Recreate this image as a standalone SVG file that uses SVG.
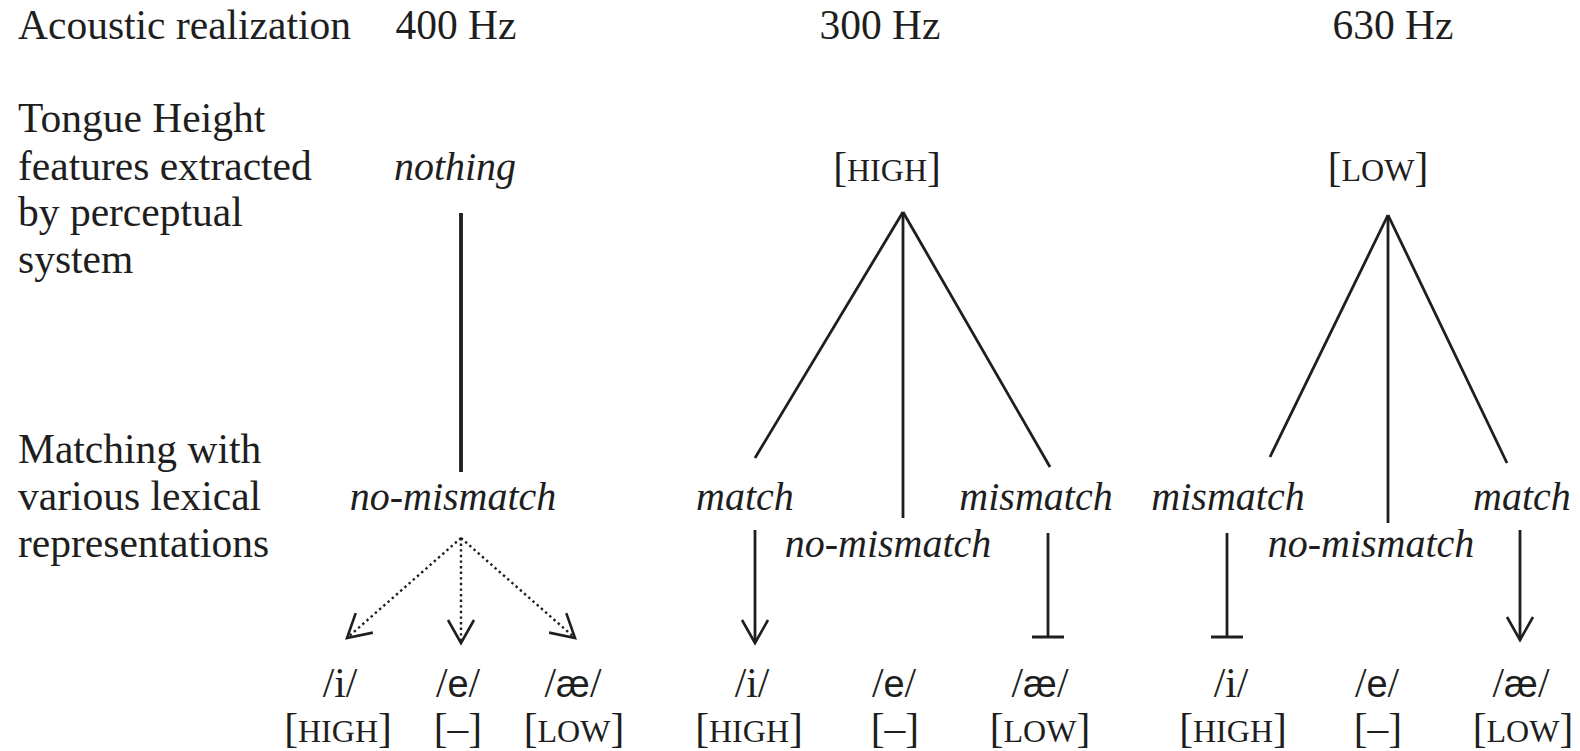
<svg xmlns="http://www.w3.org/2000/svg" width="1580" height="751" viewBox="0 0 1580 751">
<style>
text{font-family:"Liberation Serif","Times New Roman",serif;font-size:41.5px;fill:#1e1e1e}
.it{font-style:italic;font-size:40px}
.m{text-anchor:middle}
.sc{font-size:32px}
.ss{font-family:"Liberation Sans",Arial,sans-serif;font-size:38px}
.ln{stroke:#1e1e1e;stroke-width:2.8;fill:none;stroke-linecap:butt}
.thick{stroke-width:3.8}
.dot{stroke-width:2.4;stroke-dasharray:2.4 3.2}
</style>
<defs>
<marker id="arr" markerUnits="userSpaceOnUse" viewBox="-27 -16 30 32" refX="0" refY="0" markerWidth="30" markerHeight="32" orient="auto">
<path d="M-23,-13 L0,0 L-23,13" fill="none" stroke="#1e1e1e" stroke-width="2.6" stroke-dasharray="none"/>
</marker>
<marker id="tee" markerUnits="userSpaceOnUse" viewBox="-4 -18 8 36" refX="0" refY="0" markerWidth="8" markerHeight="36" orient="auto">
<path d="M0,-16 L0,16" fill="none" stroke="#1e1e1e" stroke-width="3"/>
</marker>
</defs>

<g id="row-labels">
<text x="18" y="39">Acoustic realization</text>
<text x="18" y="132">Tongue Height</text>
<text x="18" y="180">features extracted</text>
<text x="18" y="226">by perceptual</text>
<text x="18" y="273">system</text>
<text x="18" y="463">Matching with</text>
<text x="18" y="510">various lexical</text>
<text x="18" y="557">representations</text>
</g>

<g id="col-400">
<text class="m" x="456" y="39">400 Hz</text>
<text class="m it" x="455" y="180">nothing</text>
<text class="m it" x="453" y="510">no-mismatch</text>
</g>
<g id="col-300">
<text class="m" x="880" y="39">300 Hz</text>
<text class="m" x="887" y="181">[<tspan class="sc">HIGH</tspan>]</text>
<text class="m it" x="745" y="510">match</text>
<text class="m it" x="888" y="557">no-mismatch</text>
<text class="m it" x="1036" y="510">mismatch</text>
</g>
<g id="col-630">
<text class="m" x="1393" y="39">630 Hz</text>
<text class="m" x="1378" y="181">[<tspan class="sc">LOW</tspan>]</text>
<text class="m it" x="1228" y="510">mismatch</text>
<text class="m it" x="1371" y="557">no-mismatch</text>
<text class="m it" x="1522" y="510">match</text>
</g>

<g id="lex-400">
<text class="m" x="340" y="697">/i/</text>
<text class="m" x="338" y="742">[<tspan class="sc">HIGH</tspan>]</text>
<text class="m" x="458" y="697">/<tspan class="ss">e</tspan>/</text>
<text class="m" x="458" y="742">[–]</text>
<text class="m" x="573" y="697">/<tspan class="ss">æ</tspan>/</text>
<text class="m" x="574" y="742">[<tspan class="sc">LOW</tspan>]</text>
</g>
<g id="lex-300">
<text class="m" x="752" y="697">/i/</text>
<text class="m" x="749" y="742">[<tspan class="sc">HIGH</tspan>]</text>
<text class="m" x="894" y="697">/<tspan class="ss">e</tspan>/</text>
<text class="m" x="895" y="742">[–]</text>
<text class="m" x="1040" y="697">/<tspan class="ss">æ</tspan>/</text>
<text class="m" x="1040" y="742">[<tspan class="sc">LOW</tspan>]</text>
</g>
<g id="lex-630">
<text class="m" x="1231" y="697">/i/</text>
<text class="m" x="1233" y="742">[<tspan class="sc">HIGH</tspan>]</text>
<text class="m" x="1377" y="697">/<tspan class="ss">e</tspan>/</text>
<text class="m" x="1378" y="742">[–]</text>
<text class="m" x="1521" y="697">/<tspan class="ss">æ</tspan>/</text>
<text class="m" x="1523" y="742">[<tspan class="sc">LOW</tspan>]</text>
</g>

<g id="connectors">
<line class="ln thick" x1="461" y1="213" x2="461" y2="472"/>
<line class="ln dot" x1="461" y1="538" x2="347" y2="638" marker-end="url(#arr)"/>
<line class="ln dot" x1="461" y1="538" x2="461" y2="643" marker-end="url(#arr)"/>
<line class="ln dot" x1="461" y1="538" x2="575" y2="638" marker-end="url(#arr)"/>

<line class="ln" x1="903" y1="212" x2="755" y2="458"/>
<line class="ln" x1="903" y1="212" x2="903" y2="518"/>
<line class="ln" x1="903" y1="212" x2="1050" y2="467"/>
<line class="ln" x1="755" y1="530" x2="755" y2="643" marker-end="url(#arr)"/>
<line class="ln" x1="1048" y1="533" x2="1048" y2="637" marker-end="url(#tee)"/>

<line class="ln" x1="1388" y1="215" x2="1270" y2="457"/>
<line class="ln" x1="1388" y1="215" x2="1388" y2="523"/>
<line class="ln" x1="1388" y1="215" x2="1507" y2="463"/>
<line class="ln" x1="1227" y1="533" x2="1227" y2="637" marker-end="url(#tee)"/>
<line class="ln" x1="1520" y1="530" x2="1520" y2="640" marker-end="url(#arr)"/>
</g>
</svg>
